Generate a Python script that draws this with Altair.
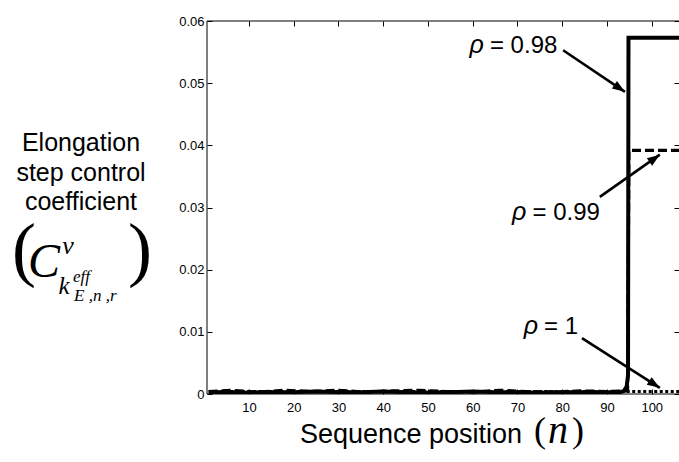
import math
import altair as alt
import pandas as pd

# ---------------- data ----------------
n_rho098 = [1, 5, 10, 15, 20, 25, 30, 35, 40, 45, 50, 55, 60, 65, 70, 75, 80, 85, 90, 93, 93.8, 94.4, 94.7, 94.8, 106.2]
c_rho098 = [0.0003, 0.0003, 0.0002, 0.0003, 0.0003, 0.0004, 0.0003, 0.0003, 0.0004, 0.0003, 0.0002, 0.0003,
            0.0004, 0.0003, 0.0003, 0.0002, 0.0003, 0.0003, 0.0003, 0.0003, 0.0005, 0.0012, 0.0030, 0.0573, 0.0573]

n_rho099 = [1, 6, 12, 18, 24, 30, 36, 42, 48, 54, 60, 66, 72, 78, 84, 90, 94.6, 94.9, 106.2]
c_rho099 = [0.0004, 0.0006, 0.0003, 0.0006, 0.0004, 0.0006, 0.0003, 0.0005, 0.0006, 0.0004, 0.0003, 0.0006,
            0.0004, 0.0003, 0.0005, 0.0004, 0.0005, 0.0392, 0.0392]

n_rho1 = [1, 106.2]
c_rho1 = [0.0004, 0.0004]

x_ticks = [10, 20, 30, 40, 50, 60, 70, 80, 90, 100]
y_ticks = [0, 0.01, 0.02, 0.03, 0.04, 0.05, 0.06]

ann_text = ["ρ", "ρ", "ρ"]
ann_value = ["= 0.98", "= 0.99", "= 1"]
ann_text_x = [62.5, 72.0, 74.6]
ann_text_y = [0.0549, 0.0280, 0.0097]
arrow_x0 = [80.2, 88.4, 84.4]
arrow_y0 = [0.0553, 0.0317, 0.0090]
arrow_x1 = [94.0, 101.8, 101.8]
arrow_y1 = [0.0486, 0.0385, 0.0010]

# ---------------- layout ----------------
W, H = 472, 373
XDOM = [0.615, 106.09]
YDOM = [0, 0.06]
SANS = "Liberation Sans"
SERIF = "Liberation Serif"

sx = W / (XDOM[1] - XDOM[0])
sy = H / (YDOM[1] - YDOM[0])
angles = []
for a, b, c, d in zip(arrow_x0, arrow_y0, arrow_x1, arrow_y1):
    dx = (c - a) * sx
    dy = -(d - b) * sy
    angles.append(math.degrees(math.atan2(dx, -dy)) % 360)

df98 = pd.DataFrame({"n": n_rho098, "c": c_rho098})
df99 = pd.DataFrame({"n": n_rho099, "c": c_rho099})
df1 = pd.DataFrame({"n": n_rho1, "c": c_rho1})
ann = pd.DataFrame({"t": ann_text, "v": ann_value, "tx": ann_text_x, "ty": ann_text_y,
                    "x0": arrow_x0, "y0": arrow_y0, "x1": arrow_x1, "y1": arrow_y1, "ang": angles})
dummy = pd.DataFrame({"d": [0]})

xscale = alt.Scale(domain=XDOM, nice=False, zero=False)
yscale = alt.Scale(domain=YDOM, nice=False, zero=False)

axis_common = dict(domain=False, grid=False, title=None, ticks=True, tickSize=5, offset=-5,
                   tickColor="black", tickWidth=1, labelColor="black", labelFont=SANS, labelFontSize=13)

x_bottom = alt.Axis(orient="bottom", values=x_ticks, labelPadding=7, **axis_common)
y_left = alt.Axis(orient="left", values=y_ticks, format=".2~f", labelPadding=3, **axis_common)
x_top = alt.Axis(orient="top", values=x_ticks, labels=False, **axis_common)
y_right = alt.Axis(orient="right", values=y_ticks, labels=False, **axis_common)

dotted = alt.Chart(df1).mark_line(color="black", strokeWidth=3, strokeDash=[3, 2.5], strokeCap="butt", clip=True).encode(
    x=alt.X("n:Q", scale=xscale, axis=x_top),
    y=alt.Y("c:Q", scale=yscale, axis=y_right),
)
dashed = alt.Chart(df99).mark_line(color="black", strokeWidth=3.2, strokeDash=[9, 4], strokeCap="butt", clip=True).encode(
    x=alt.X("n:Q", scale=xscale, axis=None),
    y=alt.Y("c:Q", scale=yscale, axis=None),
)
solid = alt.Chart(df98).mark_line(color="black", strokeWidth=4, strokeJoin="miter", clip=True).encode(
    x=alt.X("n:Q", scale=xscale, axis=x_bottom),
    y=alt.Y("c:Q", scale=yscale, axis=y_left),
)

shafts = alt.Chart(ann).mark_rule(color="black", strokeWidth=2.6).encode(
    x=alt.X("x0:Q", scale=xscale, axis=None), y=alt.Y("y0:Q", scale=yscale, axis=None),
    x2="x1:Q", y2="y1:Q",
)
heads = alt.Chart(ann).mark_point(shape="M0,0 L0.65,1.8 L-0.65,1.8 Z", filled=True, color="black",
                                    size=196, opacity=1, strokeWidth=0).encode(
    x=alt.X("x1:Q", scale=xscale, axis=None), y=alt.Y("y1:Q", scale=yscale, axis=None),
    angle=alt.Angle("ang:Q", scale=None),
)
ann_rho = alt.Chart(ann).mark_text(font=SANS, fontSize=25, fontStyle="italic", align="right",
                                   baseline="alphabetic", color="black").encode(
    x=alt.X("tx:Q", scale=xscale, axis=None), y=alt.Y("ty:Q", scale=yscale, axis=None), text="t:N",
)
ann_val = alt.Chart(ann).mark_text(font=SANS, fontSize=24, align="left", dx=6,
                                   baseline="alphabetic", color="black").encode(
    x=alt.X("tx:Q", scale=xscale, axis=None), y=alt.Y("ty:Q", scale=yscale, axis=None), text="v:N",
)

frame_top = alt.Chart(dummy).mark_rule(color="black", strokeWidth=1).encode(
    x=alt.value(0), x2=alt.value(W), y=alt.value(0))
frame_left = alt.Chart(dummy).mark_rule(color="black", strokeWidth=1).encode(
    x=alt.value(0), y=alt.value(0), y2=alt.value(H))
frame_bottom = alt.Chart(dummy).mark_rule(color="black", strokeWidth=1).encode(
    x=alt.value(0), x2=alt.value(W), y=alt.value(H))


def label(text, x, y, size, font=SANS, style="normal", align="center"):
    return alt.Chart(dummy).mark_text(text=text, font=font, fontSize=size, fontStyle=style, align=align,
                                      baseline="alphabetic", color="black").encode(
        x=alt.value(x), y=alt.value(y))


titles = [
    label("Elongation", -126, 130, 25),
    label("step control", -126, 160, 25),
    label("coefficient", -126, 189, 25),
    label("(", -183, 252, 72, font=SERIF),
    label(")", -67, 252, 72, font=SERIF),
    label("C", -163, 256, 48, font=SERIF, style="italic"),
    label("v", -139, 233, 26, font=SERIF, style="italic"),
    label("k", -143, 273, 25, font=SERIF, style="italic"),
    label("eff", -134, 261, 17, font=SERIF, style="italic", align="left"),
    label("E ,n ,r", -133, 280, 17, font=SERIF, style="italic", align="left"),
    label("Sequence position", 204, 422, 27),
    label("(", 333, 421, 36, font=SERIF),
    label("n", 351, 422, 40, font=SERIF, style="italic"),
    label(")", 371, 421, 36, font=SERIF),
]

chart = alt.layer(
    frame_top, frame_left, frame_bottom,
    dotted, dashed, solid,
    shafts, heads, ann_rho, ann_val,
    *titles,
).properties(
    width=W, height=H,
    autosize=alt.AutoSizeParams(type="none"),
    padding={"left": 207, "top": 21, "right": 0, "bottom": 68},
    background="white",
).configure_view(stroke=None)

chart.save("out.html", embed_options={"renderer": "svg", "actions": False})
